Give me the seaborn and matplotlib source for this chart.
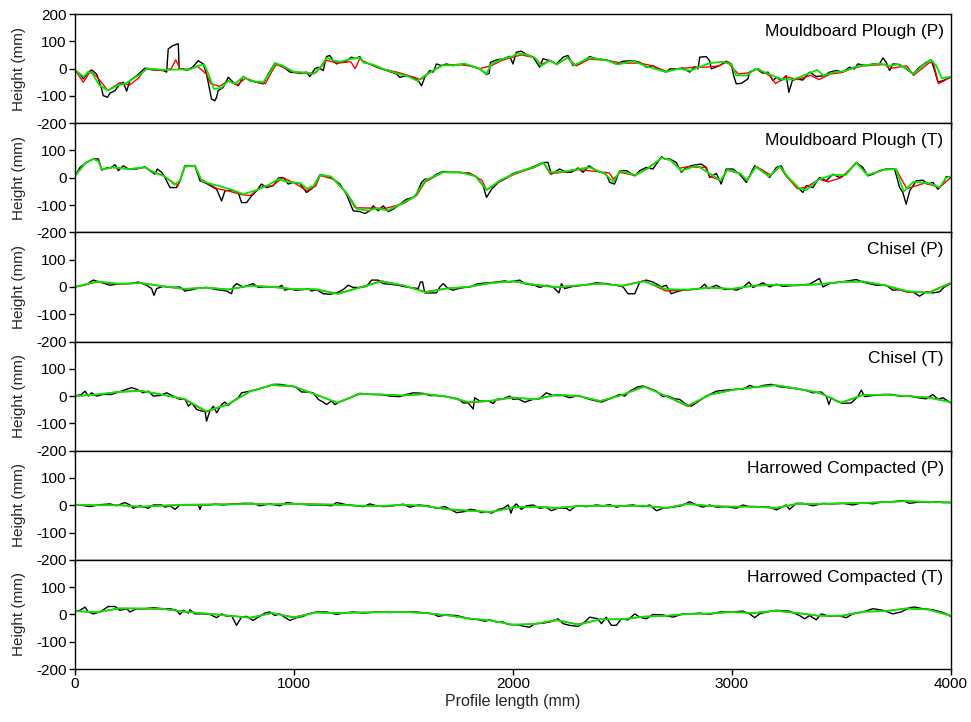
import matplotlib
matplotlib.use("Agg")
import matplotlib.pyplot as plt
import pandas as pd
import seaborn as sns

# ---------------------------------------------------------------- data
panel_titles = [
    "Mouldboard Plough (P)",
    "Mouldboard Plough (T)",
    "Chisel (P)",
    "Chisel (T)",
    "Harrowed Compacted (P)",
    "Harrowed Compacted (T)",
]
x_ticks = [0, 1000, 2000, 3000, 4000]
y_ticks_top = [-200, -100, 0, 100, 200]
y_ticks_rest = [-200, -100, 0, 100]

# (profile position mm, height mm)
mp_p_black = [
    (0, -5), (23, -20), (38, -38), (61, -13), (76, -5), (99, -20), (122, -75), (129, -99),
    (148, -105), (160, -90), (183, -81), (205, -56), (221, -50), (236, -83), (251, -44),
    (282, -26), (320, 2), (358, -5), (403, -7), (419, -13), (426, 72), (449, 85), (472, 91),
    (476, -1), (495, -1), (510, -7), (540, 7), (563, 29), (586, 17), (601, -20), (613, -69),
    (624, -112), (639, -118), (647, -105), (654, -81), (677, -69), (700, -32), (723, -50),
    (746, -63), (769, -29), (799, -44), (830, -50), (860, -56), (883, -20), (913, 20),
    (944, 11), (982, -13), (1027, -17), (1058, -13), (1073, -29), (1096, -1), (1111, 5),
    (1134, -7), (1149, 44), (1164, 48), (1180, 29), (1195, 17), (1210, 23), (1240, 27),
    (1263, 42), (1279, 36), (1301, 44), (1317, 23), (1347, 17), (1378, 5), (1423, -7),
    (1469, -20), (1484, -32), (1514, -26), (1545, -32), (1568, -44), (1583, -63), (1598, -32),
    (1621, -7), (1637, -13), (1651, 17), (1674, 11), (1697, 17), (1728, 11), (1773, 17),
    (1804, 11), (1850, -1), (1880, -22), (1892, -17), (1898, 23), (1926, 32), (1956, 36),
    (1986, 45), (2001, 17), (2016, 60), (2039, 64), (2062, 52), (2093, 42), (2123, 5),
    (2138, 36), (2169, 29), (2199, 17), (2230, 42), (2252, 48), (2275, 11), (2306, 17),
    (2351, 44), (2382, 36), (2427, 32), (2473, 17), (2504, 27), (2549, 29), (2580, 23),
    (2610, 5), (2640, 11), (2671, -5), (2701, -13), (2717, -1), (2747, -1), (2777, 2),
    (2808, -13), (2831, 7), (2846, -1), (2854, 42), (2884, 44), (2899, 29), (2907, -1),
    (2945, 11), (2975, 27), (2998, 17), (3009, -26), (3021, -56), (3044, -54), (3074, -38),
    (3082, -13), (3112, -1), (3143, -17), (3166, -13), (3188, -44), (3204, -32), (3226, -44),
    (3249, -26), (3261, -87), (3277, -44), (3295, -38), (3325, -42), (3356, -13), (3386, -29),
    (3424, -26), (3447, -13), (3478, -7), (3508, -13), (3538, 5), (3561, -1), (3576, 17),
    (3614, 11), (3645, 17), (3675, 17), (3691, 39), (3706, 23), (3721, -7), (3736, 17),
    (3767, 15), (3797, -1), (3828, -20), (3858, 5), (3889, 23), (3911, 32), (3927, -7),
    (3942, -50), (3965, -44), (4000, -32),
]
mp_p_red = [
    (0, -5), (38, -50), (70, -10), (100, -30), (150, -80), (205, -52), (250, -60), (290, -35),
    (320, -2), (400, -7), (440, 0), (460, 32), (480, 0), (520, -3), (560, 8), (600, -20),
    (620, -55), (660, -65), (700, -45), (740, -60), (780, -35), (830, -50), (870, -55),
    (900, -10), (920, 15), (1000, -12), (1060, -18), (1100, -15), (1150, 30), (1200, 20),
    (1260, 25), (1280, 0), (1300, 35), (1350, 15), (1400, 0), (1480, -15), (1520, -25),
    (1580, -40), (1620, -15), (1680, 12), (1750, 15), (1800, 10), (1850, 0), (1900, 10),
    (1950, 30), (2000, 42), (2040, 50), (2100, 40), (2130, 15), (2170, 30), (2200, 15),
    (2250, 40), (2290, 10), (2350, 35), (2430, 30), (2500, 20), (2580, 20), (2640, 10),
    (2700, -10), (2760, 0), (2830, 5), (2880, 5), (2940, 10), (2980, 25), (3030, -20),
    (3080, -15), (3120, 0), (3180, -30), (3200, -55), (3250, -30), (3300, -40), (3360, -25),
    (3400, -40), (3450, -20), (3500, -15), (3550, 0), (3600, 10), (3700, 15), (3720, 0),
    (3800, 10), (3830, -25), (3900, 20), (3920, 25), (3945, -55), (3970, -45), (4000, -30),
]
mp_p_green = [
    (0, -5), (40, -30), (60, -12), (80, -18), (110, -60), (150, -80), (200, -60), (230, -55),
    (260, -40), (300, -20), (330, 0), (420, -5), (480, -3), (520, -5), (560, 10), (590, 15),
    (610, -20), (635, -75), (670, -70), (700, -45), (730, -55), (770, -30), (800, -45),
    (860, -50), (890, -15), (915, 20), (950, 10), (1000, -12), (1060, -15), (1090, -20),
    (1120, 5), (1150, 40), (1180, 30), (1210, 25), (1260, 35), (1300, 40), (1320, 22),
    (1360, 15), (1420, -5), (1480, -20), (1520, -28), (1565, -45), (1600, -25), (1640, -5),
    (1680, 12), (1730, 12), (1780, 18), (1850, 0), (1880, -20), (1900, 15), (1950, 35),
    (2000, 45), (2020, 55), (2060, 52), (2100, 40), (2130, 10), (2170, 30), (2200, 15),
    (2250, 40), (2280, 12), (2350, 40), (2430, 30), (2480, 15), (2550, 28), (2610, 8),
    (2670, -5), (2700, -12), (2760, 0), (2810, -8), (2850, 5), (2900, 20), (2960, 25),
    (3000, 15), (3020, -25), (3070, -25), (3110, 0), (3170, -20), (3230, -40), (3280, -40),
    (3330, -25), (3390, -5), (3420, -25), (3460, -15), (3510, -10), (3560, 5), (3600, 12),
    (3680, 18), (3720, 10), (3760, 15), (3800, 0), (3830, -20), (3870, 10), (3910, 32),
    (3935, 10), (3960, -35), (4000, -30),
]

mp_t_black = [
    (0, 7), (23, 38), (53, 56), (84, 69), (107, 69), (122, 28), (145, 36), (167, 38),
    (183, 48), (198, 26), (221, 44), (244, 32), (282, 32), (320, 40), (342, 26), (365, 13),
    (376, 32), (396, 20), (411, 1), (434, -36), (464, -36), (480, -11), (502, 44), (548, 44),
    (571, -11), (601, -21), (647, -42), (670, -85), (685, -48), (715, -45), (746, -54),
    (761, -91), (784, -91), (807, -66), (830, -48), (852, -23), (875, -36), (906, -29),
    (929, -1), (951, 1), (974, -23), (997, -17), (1027, -21), (1058, -54), (1088, -36),
    (1119, 11), (1149, 7), (1180, -5), (1210, -23), (1240, -60), (1271, -121), (1301, -124),
    (1324, -131), (1347, -121), (1362, -103), (1385, -121), (1408, -103), (1431, -124),
    (1454, -115), (1484, -97), (1514, -79), (1545, -72), (1560, -60), (1583, -17), (1598, -5),
    (1621, -5), (1651, 13), (1682, 23), (1712, 20), (1758, 20), (1804, 16), (1834, 4),
    (1864, -29), (1880, -72), (1903, -42), (1934, -17), (1972, -1), (1995, 13), (2016, 20),
    (2054, 28), (2093, 40), (2138, 56), (2161, 56), (2176, 13), (2214, 32), (2245, 20),
    (2268, 20), (2298, 36), (2321, 20), (2348, 44), (2382, 26), (2427, 13), (2443, -17),
    (2465, -23), (2488, 26), (2519, 26), (2557, 7), (2580, 26), (2610, 38), (2640, 32),
    (2679, 77), (2694, 69), (2717, 69), (2747, 56), (2770, 20), (2793, 38), (2815, 44),
    (2838, 48), (2861, 50), (2884, 38), (2899, 1), (2930, 16), (2952, -23), (2975, 32),
    (3006, 32), (3036, 13), (3067, -17), (3105, 44), (3143, 26), (3173, 1), (3204, 38),
    (3226, 44), (3249, 7), (3280, -17), (3310, -42), (3325, -54), (3341, -29), (3371, -36),
    (3401, 1), (3432, -11), (3462, 13), (3493, 1), (3523, 13), (3569, 56), (3599, 38),
    (3622, 7), (3645, 13), (3675, 26), (3706, 32), (3744, 32), (3767, -36), (3782, -54),
    (3797, -97), (3813, -48), (3843, -11), (3873, -9), (3896, -23), (3919, -17), (3942, -42),
    (3965, -23), (3980, 4), (4000, 4),
]
mp_t_red = [
    (0, 7), (50, 55), (84, 69), (107, 65), (122, 30), (170, 38), (250, 32), (320, 38),
    (360, 20), (400, 10), (470, -30), (502, 40), (548, 45), (575, -5), (650, -40), (700, -48),
    (760, -62), (800, -65), (860, -30), (900, -30), (950, 0), (1000, -18), (1060, -48),
    (1100, -30), (1120, 8), (1180, -5), (1240, -55), (1280, -110), (1420, -112), (1500, -95),
    (1560, -65), (1600, -15), (1680, 20), (1800, 18), (1860, -10), (1880, -45), (1950, -8),
    (2000, 10), (2050, 25), (2100, 38), (2140, 55), (2170, 15), (2250, 22), (2300, 30),
    (2440, 18), (2460, -5), (2490, 20), (2560, 8), (2620, 38), (2680, 72), (2720, 65),
    (2760, 35), (2800, 40), (2880, 38), (2900, 5), (2950, -10), (2980, 28), (3040, 15),
    (3070, -10), (3110, 40), (3180, 10), (3220, 40), (3250, 5), (3300, -40), (3340, -35),
    (3400, -5), (3440, -15), (3500, 0), (3570, 55), (3620, 10), (3700, 30), (3750, 32),
    (3800, -40), (3880, -20), (3950, -35), (4000, 0),
]
mp_t_green = [
    (0, 7), (50, 56), (84, 69), (107, 60), (122, 30), (170, 38), (250, 32), (320, 38),
    (365, 18), (410, 5), (440, -15), (455, -25), (480, -10), (502, 42), (548, 44), (580, -12),
    (620, -22), (680, -35), (720, -45), (770, -60), (830, -45), (875, -30), (930, -5),
    (970, -15), (1030, -20), (1060, -40), (1090, -30), (1120, 10), (1170, 5), (1240, -55),
    (1290, -115), (1340, -120), (1380, -112), (1430, -120), (1480, -100), (1550, -70),
    (1600, -10), (1680, 20), (1760, 20), (1830, 5), (1880, -45), (1940, -10), (2000, 13),
    (2050, 28), (2100, 40), (2140, 55), (2170, 20), (2230, 22), (2300, 32), (2350, 38),
    (2420, 15), (2460, -15), (2490, 25), (2560, 10), (2620, 35), (2680, 73), (2720, 65),
    (2770, 25), (2840, 45), (2890, 20), (2950, -10), (2980, 30), (3040, 15), (3070, -10),
    (3110, 40), (3170, 5), (3220, 42), (3260, 0), (3310, -40), (3340, -45), (3400, -5),
    (3460, 10), (3520, 10), (3570, 55), (3620, 10), (3700, 30), (3750, 32), (3785, -50),
    (3830, -15), (3900, -20), (3950, -35), (3980, 0), (4000, 5),
]

ch_p_black = [
    (0, 0), (38, 6), (61, 12), (68, 18), (84, 25), (114, 18), (160, 6), (205, 12), (251, 12),
    (289, 18), (327, 6), (350, -6), (361, -31), (373, -6), (403, 2), (449, -2), (479, 0),
    (502, -15), (525, -12), (556, -6), (601, -2), (647, -10), (693, -15), (715, -25),
    (723, 0), (738, 12), (753, 6), (769, 0), (814, 12), (837, -2), (860, 0), (890, 0),
    (929, -2), (944, 6), (959, -12), (982, -6), (1005, -12), (1043, -10), (1065, -6),
    (1081, -15), (1103, -10), (1134, -25), (1164, -27), (1195, -22), (1225, -10), (1248, 6),
    (1271, -2), (1301, -2), (1332, 2), (1355, 25), (1385, 25), (1408, 12), (1438, 10),
    (1477, 6), (1499, 2), (1530, -2), (1568, -6), (1578, 18), (1588, 18), (1598, -22),
    (1621, -22), (1651, -22), (1667, 0), (1682, 12), (1705, -6), (1728, -12), (1751, -6),
    (1781, -2), (1804, 0), (1842, 12), (1888, 15), (1926, 18), (1964, 22), (1986, 18),
    (2032, 25), (2054, 12), (2100, 6), (2123, -2), (2153, 6), (2184, 0), (2211, -22),
    (2222, 12), (2237, -6), (2275, 2), (2321, 6), (2382, 15), (2427, 12), (2473, 6),
    (2504, 0), (2526, -25), (2557, -25), (2580, 18), (2610, 25), (2640, 18), (2679, 0),
    (2701, 6), (2724, -25), (2747, -18), (2777, -12), (2815, -10), (2854, -6), (2876, 10),
    (2892, -6), (2930, 6), (2968, -10), (2991, -6), (3021, -12), (3051, -2), (3079, 18),
    (3097, -2), (3143, 15), (3173, 0), (3204, 10), (3234, 2), (3295, 6), (3356, 10),
    (3401, 31), (3417, 0), (3447, 12), (3493, 18), (3531, 22), (3569, 27), (3599, 18),
    (3630, 12), (3660, 6), (3706, 6), (3736, -12), (3767, -10), (3797, -18), (3828, -18),
    (3858, -34), (3889, -18), (3919, -22), (3949, -18), (3972, 0), (4000, 12),
]
ch_t_black = [
    (0, 0), (30, 6), (46, 18), (61, 0), (76, 12), (99, 0), (129, 6), (167, 6), (205, 16),
    (236, 25), (259, 31), (282, 25), (312, 12), (335, 18), (358, 0), (388, 2), (419, 12),
    (449, 0), (479, -12), (502, -10), (518, -37), (533, -25), (556, -49), (578, -55),
    (594, -55), (601, -92), (616, -55), (632, -37), (647, -61), (670, -31), (685, -22),
    (700, -34), (723, -18), (746, -6), (761, 12), (799, 18), (845, 27), (875, 34), (906, 43),
    (936, 43), (967, 39), (989, 37), (1012, 31), (1035, 15), (1065, 15), (1088, 12),
    (1111, -12), (1134, -22), (1149, -31), (1172, -18), (1187, -31), (1218, -18), (1256, -6),
    (1301, 10), (1347, 6), (1400, 6), (1438, 0), (1484, -2), (1514, 6), (1545, 12),
    (1591, 10), (1621, 2), (1651, 2), (1697, -2), (1751, -10), (1773, -25), (1796, -25),
    (1819, -47), (1826, -6), (1849, -18), (1888, -18), (1911, -27), (1926, -12), (1956, -10),
    (1986, 0), (2001, -12), (2024, -10), (2054, -22), (2093, -12), (2123, -10), (2153, 12),
    (2184, 2), (2230, 2), (2260, -6), (2298, 2), (2351, -12), (2405, -22), (2443, -10),
    (2488, 6), (2511, 0), (2534, 18), (2572, 34), (2595, 37), (2617, 31), (2656, 18),
    (2686, -2), (2709, 0), (2739, -10), (2762, -12), (2793, -31), (2815, -37), (2838, -25),
    (2884, 0), (2930, 18), (2975, 22), (3021, 25), (3051, 25), (3082, 39), (3112, 31),
    (3143, 39), (3181, 43), (3219, 34), (3257, 31), (3295, 27), (3333, 22), (3371, 12),
    (3409, 15), (3432, 0), (3444, -31), (3455, -6), (3478, -18), (3508, -27), (3546, -25),
    (3576, -2), (3592, 22), (3607, -2), (3645, 2), (3691, 6), (3729, 6), (3767, 0),
    (3813, 0), (3851, -6), (3889, -10), (3919, 6), (3942, -12), (3965, -6), (4000, -25),
]
hc_p_black = [
    (0, 3), (23, 1), (68, -5), (114, 2), (160, 5), (190, -2), (228, 10), (251, 1), (266, -11),
    (297, -2), (335, -11), (358, 1), (396, 1), (411, -7), (434, -2), (457, -15), (479, 1),
    (525, 2), (563, 2), (571, -15), (578, 1), (616, 1), (639, 4), (677, 1), (723, 5),
    (769, 7), (814, 7), (845, -2), (890, 5), (936, -2), (967, 10), (1012, 5), (1073, 1),
    (1134, 1), (1172, -2), (1195, 10), (1240, 2), (1286, -2), (1317, -5), (1347, 5),
    (1378, -2), (1408, -5), (1454, -2), (1499, 4), (1530, -7), (1568, 1), (1614, -2),
    (1651, -11), (1690, -5), (1720, -17), (1743, -27), (1781, -23), (1804, -15), (1826, -17),
    (1857, -27), (1880, -23), (1903, -29), (1934, -15), (1956, -11), (1979, 1), (1992, -29),
    (2001, -7), (2016, 5), (2039, -15), (2062, -2), (2093, 1), (2123, -11), (2153, -7),
    (2176, -20), (2207, -11), (2245, -11), (2260, -20), (2290, -2), (2336, -5), (2382, 1),
    (2412, -2), (2443, 2), (2473, -7), (2504, -2), (2549, 1), (2595, -5), (2625, 1),
    (2656, -20), (2686, -11), (2732, -7), (2770, -2), (2808, 13), (2838, 1), (2869, -7),
    (2899, 1), (2930, -7), (2975, -5), (3021, -11), (3051, 1), (3082, -5), (3127, -5),
    (3173, -7), (3204, -17), (3249, 1), (3264, -15), (3295, 7), (3325, 7), (3371, -2),
    (3417, 7), (3462, 5), (3508, 7), (3554, 1), (3599, 10), (3645, 5), (3691, 13),
    (3736, 13), (3782, 17), (3813, 7), (3858, 12), (3904, 10), (3935, 13), (3965, 10),
    (4000, 10),
]
hc_t_black = [
    (0, 12), (23, 15), (46, 27), (61, 9), (84, 2), (114, 9), (152, 29), (183, 29), (205, 15),
    (236, 21), (251, 9), (282, 21), (320, 21), (358, 25), (396, 21), (434, 21), (464, 15),
    (479, 0), (495, 15), (518, 5), (525, 17), (548, 2), (586, 2), (616, 0), (647, -12),
    (670, 2), (693, -7), (715, -4), (738, -40), (761, -10), (784, -7), (814, -22), (837, -10),
    (868, 5), (890, 9), (913, -4), (936, 2), (951, -7), (982, -22), (1012, -12), (1043, -7),
    (1065, 2), (1103, 9), (1149, 9), (1195, 0), (1225, 5), (1271, 9), (1317, 5), (1378, 9),
    (1438, 7), (1499, 9), (1560, 9), (1606, 5), (1637, 2), (1659, -7), (1697, -2),
    (1743, -4), (1773, -10), (1804, -16), (1849, -20), (1872, -25), (1895, -20), (1926, -28),
    (1956, -28), (1979, -37), (2016, -37), (2054, -44), (2077, -47), (2100, -34), (2138, -32),
    (2169, -28), (2207, -16), (2230, -34), (2260, -40), (2298, -44), (2329, -28), (2351, -10),
    (2389, -16), (2405, -34), (2427, -10), (2450, -40), (2473, -40), (2496, -16), (2526, -20),
    (2557, 2), (2580, -10), (2610, -16), (2640, 0), (2686, -2), (2732, -10), (2777, 2),
    (2815, 2), (2854, 5), (2899, 0), (2945, 9), (2991, 9), (3051, 12), (3082, 2),
    (3105, -12), (3127, 2), (3158, 9), (3204, 15), (3264, 12), (3310, -4), (3333, -16),
    (3356, -4), (3386, -20), (3409, 2), (3447, -7), (3485, -4), (3523, -12), (3554, 2),
    (3599, 9), (3645, 21), (3691, 15), (3736, 2), (3774, 9), (3813, 25), (3835, 27),
    (3873, 21), (3919, 17), (3957, 9), (3980, 2), (4000, -7),
]

# smoothed profiles sampled every 100 mm for the lower four panels
grid_100 = list(range(0, 4001, 100))
ch_p_red = [0, 18, 10, 15, 2, -8, -2, -10, 5, 0, -8, -10, -24, -2, 22, 5, -18, -5, 0, 15, 20,
            8, -2, 5, 12, 5, 22, -15, -10, -2, -8, 5, 8, 5, 10, 18, 20, 5, -18, -20, 15]
ch_p_green = [0, 20, 12, 14, 3, -7, -3, -9, 4, 0, -8, -8, -26, -3, 20, 6, -20, -6, 1, 14, 21,
              8, -1, 6, 12, 4, 20, -8, -10, -3, -7, 4, 8, 6, 10, 18, 20, 6, -15, -22, 14]
ch_t_red = [0, 5, 16, 20, 5, -12, -58, -30, 18, 40, 35, 6, -25, 8, 5, 2, 7, -2, -24, -18, -5,
            -12, 5, 0, -18, 5, 35, 0, -38, 5, 22, 33, 40, 28, 12, -25, 5, 5, 0, -5, -22]
ch_t_green = [0, 6, 15, 19, 5, -10, -55, -30, 17, 41, 36, 5, -24, 8, 6, 2, 8, -2, -22, -17, -5,
              -12, 5, 0, -18, 4, 35, 0, -35, 5, 22, 32, 40, 27, 12, -24, 4, 5, 0, -6, -22]
hc_p_red = [2, 0, 1, -6, -1, 2, 3, 4, 5, 3, 5, 4, 2, -2, -3, 2, -3, -15, -20, -24, -8, -5, -10,
            -3, -2, -3, -1, -10, 6, -3, -5, -5, -10, 5, 5, 7, 8, 12, 15, 12, 10]
hc_p_green = [2, 0, 0, -5, -2, 2, 2, 3, 5, 3, 5, 3, 2, -2, -3, 2, -3, -14, -20, -25, -8, -5, -10,
              -3, -2, -3, -2, -10, 5, -3, -5, -5, -10, 5, 5, 7, 8, 12, 15, 12, 10]
hc_t_red = [12, 8, 22, 21, 20, 10, 3, -4, -12, 5, -10, 7, 5, 7, 8, 9, 5, -3, -15, -22, -38, -35,
            -22, -36, -18, -18, -8, -5, 2, 3, 9, 5, 13, 5, -5, -5, 10, 12, 22, 18, -5]
hc_t_green = [12, 8, 22, 22, 21, 10, 3, -5, -12, 5, -12, 7, 5, 7, 8, 9, 5, -3, -15, -22, -38, -35,
              -20, -38, -18, -18, -8, -5, 2, 3, 9, 5, 14, 5, -5, -5, 10, 12, 22, 18, -5]


def frame(points):
    return pd.DataFrame(points, columns=["x", "y"])


def grid_frame(values):
    return pd.DataFrame({"x": grid_100, "y": values})


panels = [
    (frame(mp_p_black), frame(mp_p_red), frame(mp_p_green)),
    (frame(mp_t_black), frame(mp_t_red), frame(mp_t_green)),
    (frame(ch_p_black), grid_frame(ch_p_red), grid_frame(ch_p_green)),
    (frame(ch_t_black), grid_frame(ch_t_red), grid_frame(ch_t_green)),
    (frame(hc_p_black), grid_frame(hc_p_red), grid_frame(hc_p_green)),
    (frame(hc_t_black), grid_frame(hc_t_red), grid_frame(hc_t_green)),
]

# ---------------------------------------------------------------- figure
sns.set_theme(style="ticks")
plt.rcParams["font.family"] = ["Liberation Sans", "DejaVu Sans"]
plt.rcParams["axes.unicode_minus"] = False

fig, axes = plt.subplots(6, 1, figsize=(9.71, 7.22), dpi=100, sharex=True)
fig.subplots_adjust(left=0.0772, right=0.979, top=0.9806, bottom=0.0734, hspace=0)

line_styles = [("black", 1.0), ("#ff0000", 1.0), ("#00ea00", 1.3)]

for i, (ax, title, series) in enumerate(zip(axes, panel_titles, panels)):
    for df, (color, lw) in zip(series, line_styles):
        sns.lineplot(data=df, x="x", y="y", ax=ax, color=color, linewidth=lw,
                     estimator=None, sort=False)
    ax.set_xlim(0, 4000)
    ax.set_ylim(-200, 200)
    ax.set_yticks(y_ticks_top if i == 0 else y_ticks_rest)
    ax.set_xticks(x_ticks)
    ax.set_ylabel("Height (mm)", fontsize=11, labelpad=7)
    ax.set_xlabel("")
    for side in ("top", "bottom", "left", "right"):
        ax.spines[side].set_visible(True)
        ax.spines[side].set_color("black")
        ax.spines[side].set_linewidth(1.0)
    ax.tick_params(axis="both", direction="out", length=4, width=1, labelsize=11,
                   colors="black", pad=2)
    ax.text(0.992, 0.84, title, transform=ax.transAxes, ha="right", va="center",
            fontsize=12.5, color="black")

axes[-1].set_xlabel("Profile length (mm)", fontsize=11.5, labelpad=2)

fig.savefig("out.png", dpi=100)
